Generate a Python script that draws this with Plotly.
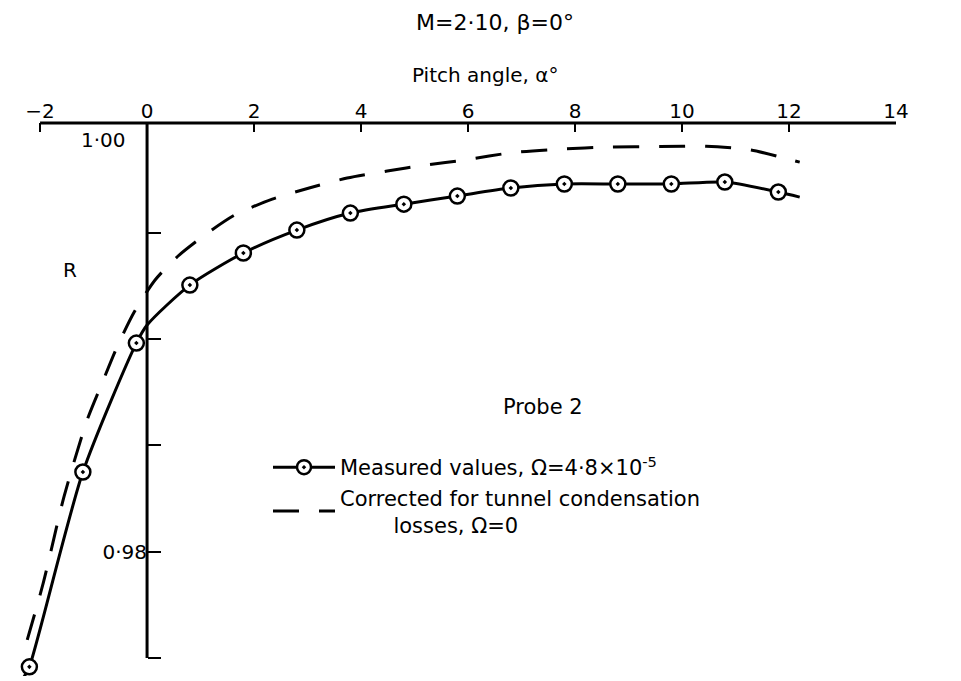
import plotly.graph_objects as go

# Measured values (solid line with circle markers)
alpha_meas = [-2.2, -1.2, -0.2, 0.8, 1.8, 2.8, 3.8, 4.8, 5.8, 6.8, 7.8, 8.8, 9.8, 10.8, 11.8]
r_meas = [0.97458, 0.98375, 0.98982, 0.99255, 0.99406, 0.99514, 0.99594, 0.99636,
          0.99674, 0.99712, 0.99731, 0.99731, 0.99731, 0.99740, 0.99693]

# Faired curve through the measured values, as drawn (slightly beyond the end points)
alpha_meas_curve = [-2.3, -2.2, -1.2, -0.2, 0.0, 0.8, 1.8, 2.8, 3.8, 4.8, 5.8,
                    6.8, 7.8, 8.8, 9.8, 10.8, 11.8, 12.2]
r_meas_curve = [0.97411, 0.97458, 0.98375, 0.98982, 0.99067, 0.99255, 0.99406, 0.99514,
                0.99594, 0.99636, 0.99674, 0.99712, 0.99731, 0.99731, 0.99731, 0.99740,
                0.99693, 0.99669]

# Corrected for tunnel condensation losses (dashed)
alpha_corr = [-2.24, -1.94, -1.55, -1.12, -0.84, -0.56, -0.24, 0.15, 0.58, 1.08, 1.64,
              2.34, 3.03, 3.74, 4.49, 5.2, 5.94, 6.84, 7.72, 8.64, 9.59, 10.45, 11.29,
              11.98, 12.2]
r_corr = [0.97585, 0.97853, 0.98262, 0.98620, 0.98794, 0.98964, 0.99128, 0.99279,
          0.99392, 0.99491, 0.99585, 0.99660, 0.99712, 0.99759, 0.99792, 0.99820,
          0.99844, 0.99879, 0.99895, 0.99905, 0.99907, 0.99909, 0.99891, 0.99848,
          0.99834]

x_ticks = [-2, 0, 2, 4, 6, 8, 10, 12, 14]
x_ticktext = ["−2", "0", "2", "4", "6", "8", "10", "12", "14"]
y_label_ticks = [0.98]
y_label_text = ["0·98"]
y_minor_ticks = [0.975, 0.985, 0.99, 0.995]

X_RANGE = [-2.45, 14]
Y_RANGE = [0.97415, 1.00018]
Y_AXIS_BOTTOM = 0.975

FONT = "DejaVu Sans"

# pixel -> paper helpers for layout text placement
L, R_, T, B = 16, 65, 123, 5
W, H = 961, 681
def px(x):
    return (x - L) / (W - L - R_)
def py(y):
    return (H - B - y) / (H - T - B)

NB = "\u00a0"

fig = go.Figure()

fig.add_trace(go.Scatter(
    x=alpha_meas_curve, y=r_meas_curve, mode="lines",
    line=dict(color="black", width=3, shape="spline", smoothing=0.7),
    showlegend=False, hoverinfo="skip"))

fig.add_trace(go.Scatter(
    x=alpha_meas, y=r_meas, mode="markers",
    marker=dict(symbol="circle-dot", size=15, color="white",
                line=dict(color="black", width=2.5)),
    showlegend=False, cliponaxis=False))

# legend entry for the measured series (line + marker sample)
fig.add_trace(go.Scatter(
    x=[None], y=[None], mode="lines+markers",
    name="Measured values, Ω=4·8×10<sup>-5</sup>",
    line=dict(color="black", width=3),
    marker=dict(symbol="circle-dot", size=14, color="white",
                line=dict(color="black", width=2.5))))

fig.add_trace(go.Scatter(
    x=alpha_corr, y=r_corr, mode="lines",
    name="Corrected for tunnel condensation<br>" + NB * 8 + "losses, Ω=0",
    line=dict(color="black", width=3, dash="26px,20px", shape="spline", smoothing=0.7)))

fig.update_layout(
    width=W, height=H,
    paper_bgcolor="white", plot_bgcolor="white",
    margin=dict(l=L, r=R_, t=T, b=B),
    font=dict(family=FONT, color="black", size=20),
    title=dict(text="M=2·10, β=0°", x=495 / W, xanchor="center",
               y=1 - 22 / H, yanchor="middle",
               font=dict(family=FONT, size=22, color="black")),
    xaxis=dict(range=X_RANGE, side="top", tickvals=x_ticks, ticktext=x_ticktext,
               ticks="inside", ticklen=9, tickwidth=2, tickcolor="black",
               showline=False, showgrid=False, zeroline=False,
               tickfont=dict(family=FONT, size=20)),
    yaxis=dict(range=Y_RANGE, anchor="free",
               position=(0 - X_RANGE[0]) / (X_RANGE[1] - X_RANGE[0]), side="left",
               tickvals=y_label_ticks, ticktext=y_label_text,
               ticks="inside", ticklen=13, tickwidth=2, tickcolor="black",
               minor=dict(tickvals=y_minor_ticks, ticks="inside", ticklen=13,
                          tickwidth=2, tickcolor="black", showgrid=False),
               showline=False, showgrid=False, zeroline=False,
               tickfont=dict(family=FONT, size=20)),
    legend=dict(x=px(268), y=py(447), xanchor="left", yanchor="top",
                bgcolor="rgba(0,0,0,0)", itemwidth=62,
                font=dict(family=FONT, size=21), tracegroupgap=0),
    shapes=[
        # top axis line from -2 to 14
        dict(type="line", xref="x", yref="paper", x0=x_ticks[0], x1=x_ticks[-1], y0=1, y1=1,
             line=dict(color="black", width=3)),
        # vertical R axis at alpha = 0
        dict(type="line", xref="x", yref="y", x0=0, x1=0, y0=Y_AXIS_BOTTOM, y1=Y_RANGE[1],
             line=dict(color="black", width=3)),
    ],
    annotations=[
        dict(text="Pitch angle, α°", x=px(485), y=py(75), xref="paper", yref="paper",
             xanchor="center", yanchor="middle", showarrow=False,
             font=dict(family=FONT, size=20)),
        dict(text="R", x=px(70), y=py(270), xref="paper", yref="paper",
             xanchor="center", yanchor="middle", showarrow=False,
             font=dict(family=FONT, size=20)),
        dict(text="1·00", x=px(103), y=py(140), xref="paper", yref="paper",
             xanchor="center", yanchor="middle", showarrow=False,
             font=dict(family=FONT, size=20)),
        dict(text="Probe 2", x=px(543), y=py(407), xref="paper", yref="paper",
             xanchor="center", yanchor="middle", showarrow=False,
             font=dict(family=FONT, size=21)),
    ],
)

fig.write_html("out.html")
